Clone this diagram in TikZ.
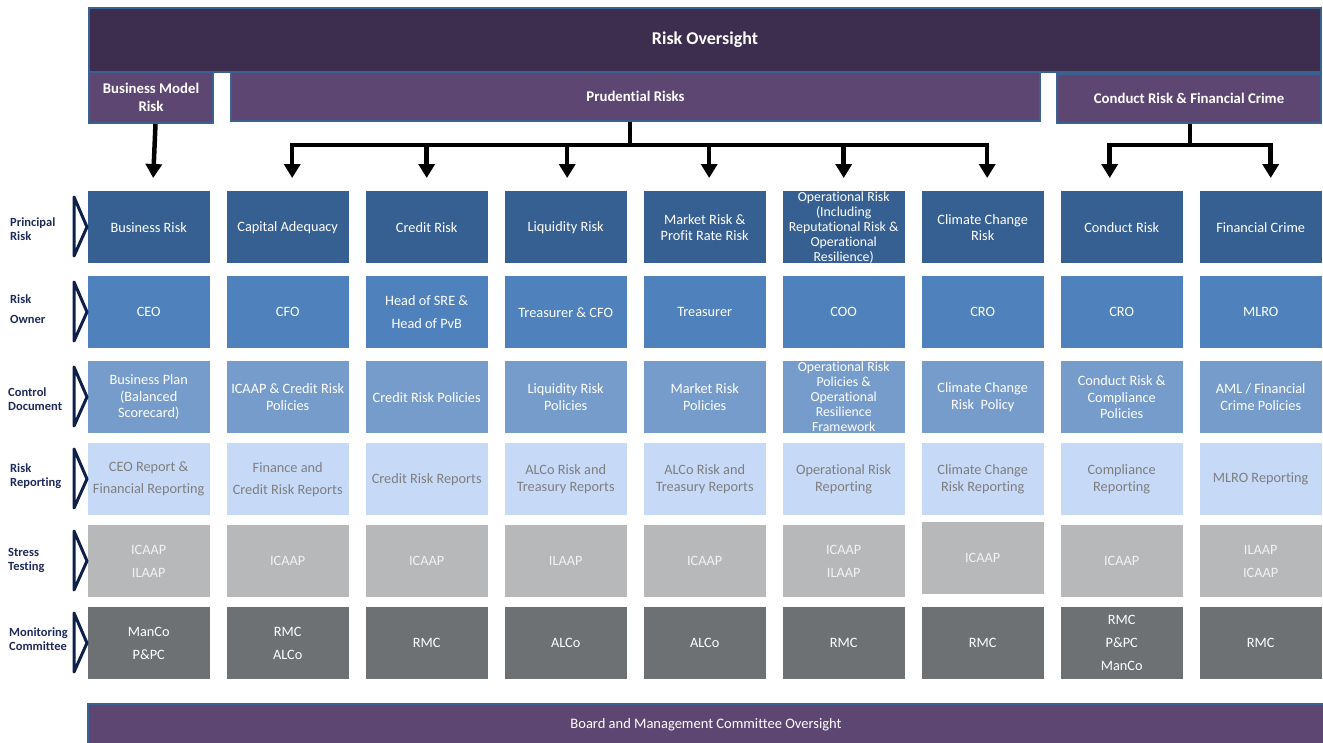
\documentclass[tikz,border=0pt]{standalone}
\usepackage{fontspec}
\setmainfont{Carlito}[Ligatures=NoCommon]
\usetikzlibrary{arrows.meta}
\definecolor{ovs}{HTML}{3D2E4F}
\definecolor{purp}{HTML}{5E4673}
\definecolor{bord}{HTML}{3A6190}
\definecolor{rowa}{HTML}{376092}
\definecolor{rowb}{HTML}{4F81BD}
\definecolor{rowc}{HTML}{769CCB}
\definecolor{rowd}{HTML}{C6D9F7}
\definecolor{rowe}{HTML}{B7B8BA}
\definecolor{rowf}{HTML}{6E7174}
\definecolor{navy}{HTML}{1F2A5C}
\definecolor{chevc}{HTML}{0F1F4B}
\definecolor{graytxt}{HTML}{7F7F7F}
\newcommand\cellat[5]{\node[#4] (#1) at (#2,#3) {#5};}
\begin{document}
\begin{tikzpicture}[x=1pt,y=-1pt,
  cell/.style={anchor=north west, minimum width=122pt, minimum height=72pt, inner sep=0pt, align=center},
  ra/.style={cell, fill=rowa, text=white, font=\fontsize{14.3}{16}\selectfont},
  rops/.style={cell, fill=rowa, text=white, font=\fontsize{13.8}{15}\selectfont},
  rb/.style={cell, fill=rowb, text=white, font=\fontsize{14.3}{23}\selectfont},
  rc/.style={cell, fill=rowc, text=white, font=\fontsize{14.3}{16.5}\selectfont},
  rcops/.style={cell, fill=rowc, text=white, font=\fontsize{13.8}{15}\selectfont},
  rd/.style={cell, fill=rowd, text=graytxt, font=\fontsize{14.3}{22}\selectfont},
  re/.style={cell, fill=rowe, text=white!95!black, font=\fontsize{14.3}{23}\selectfont},
  rf/.style={cell, fill=rowf, text=white, font=\fontsize{14.3}{23}\selectfont},
  hdr/.style={anchor=north west, draw=bord, line width=2pt, fill=purp, text=white, inner sep=0pt, align=center, font=\bfseries\fontsize{14.8}{18}\selectfont},
  lab/.style={anchor=west, align=left, inner sep=0pt, text=navy, font=\bfseries\fontsize{12.5}{14}\selectfont},
  chev/.style={draw=chevc, line width=3pt, line join=round, fill=white},
  bar/.style={line width=4.5pt},
  arr/.style={line width=4.5pt, -{Triangle[width=16pt,length=14pt]}}
]
\useasboundingbox (0,0) rectangle (1323,742);
% header
\node[hdr, fill=ovs, minimum width=1232pt, minimum height=64pt, font=\bfseries\fontsize{18}{20}\selectfont] (ro) at (88,7) {Risk Oversight};
\node[hdr, minimum width=124pt, minimum height=51pt] (bm) at (88,71) {Business Model\\Risk};
\node[hdr, minimum width=809pt, minimum height=49pt] (pr) at (230,71) {Prudential Risks};
\node[hdr, minimum width=264pt, minimum height=49pt] (cr) at (1056,73) {Conduct Risk \& Financial Crime};

% row 1
\cellat{r1c1}{87.5}{191}{ra}{Business Risk}
\cellat{r1c2}{226.5}{191}{ra}{Capital Adequacy}
\cellat{r1c3}{365.5}{191}{ra}{Credit Risk}
\cellat{r1c4}{504.5}{191}{ra}{Liquidity Risk}
\cellat{r1c5}{643.5}{191}{ra}{Market Risk \&\\Profit Rate Risk}
\cellat{r1c6}{782.5}{191}{rops}{Operational Risk\\(Including\\Reputational Risk \&\\Operational\\Resilience)}
\cellat{r1c7}{921.5}{191}{ra}{Climate Change\\Risk}
\cellat{r1c8}{1060.5}{191}{ra}{Conduct Risk}
\cellat{r1c9}{1199.5}{191}{ra}{Financial Crime}
% row 2
\cellat{r2c1}{87.5}{276}{rb}{CEO}
\cellat{r2c2}{226.5}{276}{rb}{CFO}
\cellat{r2c3}{365.5}{276}{rb}{Head of SRE \&\\Head of PvB}
\cellat{r2c4}{504.5}{276}{rb}{Treasurer \& CFO}
\cellat{r2c5}{643.5}{276}{rb}{Treasurer}
\cellat{r2c6}{782.5}{276}{rb}{COO}
\cellat{r2c7}{921.5}{276}{rb}{CRO}
\cellat{r2c8}{1060.5}{276}{rb}{CRO}
\cellat{r2c9}{1199.5}{276}{rb}{MLRO}
% row 3
\cellat{r3c1}{87.5}{361}{rc}{Business Plan\\(Balanced\\Scorecard)}
\cellat{r3c2}{226.5}{361}{rc}{ICAAP \& Credit Risk\\Policies}
\cellat{r3c3}{365.5}{361}{rc}{Credit Risk Policies}
\cellat{r3c4}{504.5}{361}{rc}{Liquidity Risk\\Policies}
\cellat{r3c5}{643.5}{361}{rc}{Market Risk\\Policies}
\cellat{r3c6}{782.5}{361}{rcops}{Operational Risk\\Policies \&\\Operational\\Resilience\\Framework}
\cellat{r3c7}{921.5}{361}{rc}{Climate Change\\Risk~ Policy}
\cellat{r3c8}{1060.5}{361}{rc}{Conduct Risk \&\\Compliance\\Policies}
\cellat{r3c9}{1199.5}{361}{rc}{AML / Financial\\Crime Policies}
% row 4
\cellat{r4c1}{87.5}{443}{rd}{CEO Report \&\\Financial Reporting}
\cellat{r4c2}{226.5}{443}{rd}{Finance and\\Credit Risk Reports}
\cellat{r4c3}{365.5}{443}{rd}{Credit Risk Reports}
\cellat{r4c4}{504.5}{443}{rd, font=\fontsize{14.3}{16.5}\selectfont}{ALCo Risk and\\Treasury Reports}
\cellat{r4c5}{643.5}{443}{rd, font=\fontsize{14.3}{16.5}\selectfont}{ALCo Risk and\\Treasury Reports}
\cellat{r4c6}{782.5}{443}{rd, font=\fontsize{14.3}{16.5}\selectfont}{Operational Risk\\Reporting}
\cellat{r4c7}{921.5}{443}{rd, font=\fontsize{14.3}{16.5}\selectfont}{Climate Change\\Risk Reporting}
\cellat{r4c8}{1060.5}{443}{rd, font=\fontsize{14.3}{16.5}\selectfont}{Compliance\\Reporting}
\cellat{r4c9}{1199.5}{443}{rd}{MLRO Reporting}
% row 5
\cellat{r5c1}{87.5}{525}{re}{ICAAP\\ILAAP}
\cellat{r5c2}{226.5}{525}{re}{ICAAP}
\cellat{r5c3}{365.5}{525}{re}{ICAAP}
\cellat{r5c4}{504.5}{525}{re}{ILAAP}
\cellat{r5c5}{643.5}{525}{re}{ICAAP}
\cellat{r5c6}{782.5}{525}{re}{ICAAP\\ILAAP}
\cellat{r5c7}{921.5}{522}{re}{ICAAP}
\cellat{r5c8}{1060.5}{525}{re}{ICAAP}
\cellat{r5c9}{1199.5}{525}{re}{ILAAP\\ICAAP}
% row 6
\cellat{r6c1}{87.5}{607}{rf}{ManCo\\P\&PC}
\cellat{r6c2}{226.5}{607}{rf}{RMC\\ALCo}
\cellat{r6c3}{365.5}{607}{rf}{RMC}
\cellat{r6c4}{504.5}{607}{rf}{ALCo}
\cellat{r6c5}{643.5}{607}{rf}{ALCo}
\cellat{r6c6}{782.5}{607}{rf}{RMC}
\cellat{r6c7}{921.5}{607}{rf}{RMC}
\cellat{r6c8}{1060.5}{607}{rf}{RMC\\P\&PC\\ManCo}
\cellat{r6c9}{1199.5}{607}{rf}{RMC}

% bottom bar
\node[hdr, minimum width=1236pt, minimum height=42pt, font=\fontsize{14.5}{18}\selectfont] (bo) at (87,703) {Board and Management Committee Oversight};

% left labels
\node[lab] (l1) at (10,229) {Principal\\Risk};
\node[lab, font=\bfseries\fontsize{12.5}{20}\selectfont] (l2) at (10,309) {Risk\\Owner};
\node[lab] (l3) at (8,399) {Control\\Document};
\node[lab] (l4) at (10,476) {Risk\\Reporting};
\node[lab] (l5) at (8,560) {Stress\\Testing};
\node[lab] (l6) at (9,639) {Monitoring\\Committee};
\foreach \t in {191,276,361,443,525,607}
  \draw[chev] (74,{\t+6}) -- (87,{\t+36}) -- (74,{\t+65}) -- cycle;

% connectors
\draw[arr] ([xshift=4.5pt]bm.south) -- ([xshift=4.5pt,yshift=13pt]r1c1.north);
\coordinate (pj) at (630,145);
\draw[bar] (pr.south -| pj) -- (pj);
\draw[arr] (pj) -| ([xshift=4.5pt,yshift=13pt]r1c2.north);
\draw[arr] (pj) -| ([yshift=13pt]r1c3.north);
\draw[arr] (pj) -| ([xshift=1.5pt,yshift=13pt]r1c4.north);
\draw[arr] (pj) -| ([xshift=4.5pt,yshift=13pt]r1c5.north);
\draw[arr] (pj) -| ([yshift=13pt]r1c6.north);
\draw[arr] (pj) -| ([xshift=4.5pt,yshift=13pt]r1c7.north);
\coordinate (cj) at (1190,145);
\draw[bar] (cr.south -| cj) -- (cj);
\draw[arr] (cj) -| ([xshift=-12pt,yshift=13pt]r1c8.north);
\draw[arr] (cj) -| ([xshift=10pt,yshift=13pt]r1c9.north);
\end{tikzpicture}
\end{document}
